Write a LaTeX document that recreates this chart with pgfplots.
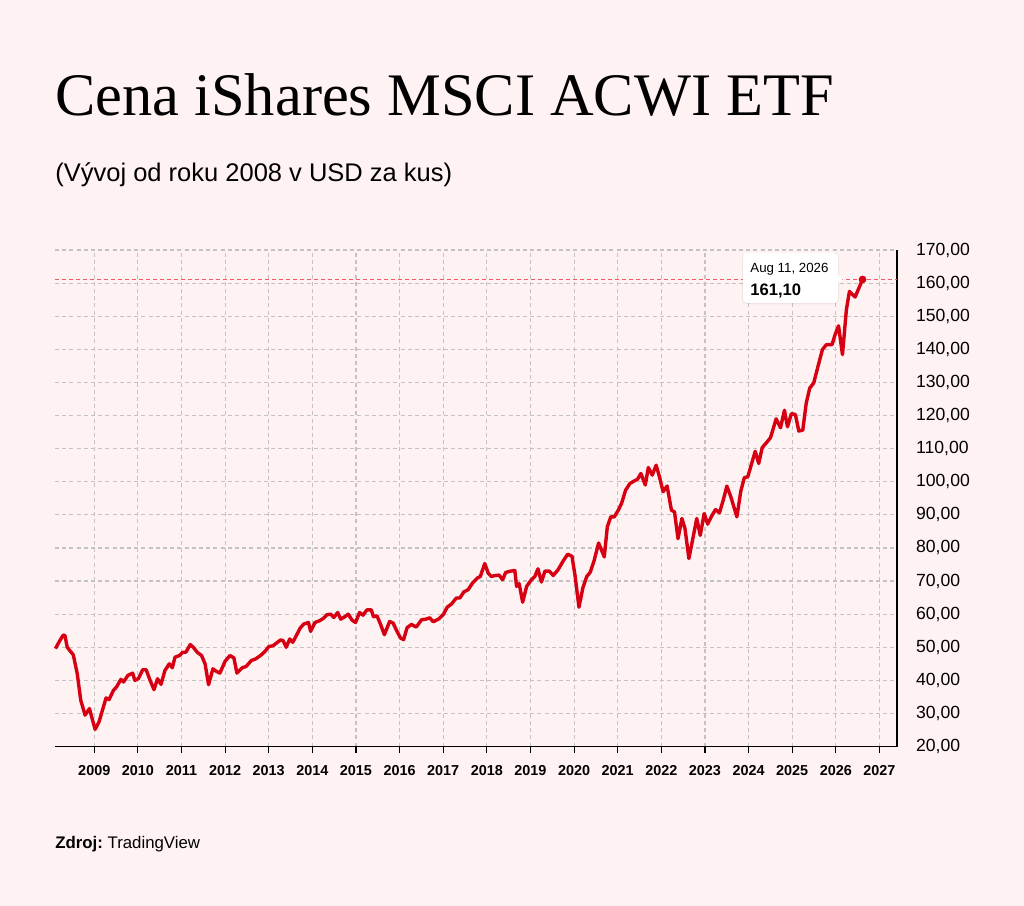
\documentclass[border=0pt]{standalone}
\usepackage{pgfplots}
\pgfplotsset{compat=1.18}
\usepackage{fontspec}
\setmainfont{Liberation Sans}
\newfontfamily\titlefont{Liberation Serif}
\definecolor{bg}{RGB}{255,242,242}
\definecolor{linered}{RGB}{215,0,18}
\definecolor{gridgray}{RGB}{195,195,195}
\definecolor{dashred}{RGB}{245,90,100}
\begin{document}
\begin{tikzpicture}
\fill[bg] (0,0) rectangle (512pt,453pt);
\useasboundingbox (0,0) rectangle (512pt,453pt);
\node[anchor=base west, inner sep=0pt, font=\titlefont\fontsize{30.2}{32}\selectfont] at (27.5pt,395pt) {Cena iShares MSCI ACWI ETF};
\node[anchor=base west, inner sep=0pt, font=\fontsize{12.75}{14}\selectfont] at (27.5pt,362pt) {(Vývoj od roku 2008 v USD za kus)};
\node[anchor=base west, inner sep=0pt, font=\fontsize{8.4}{10}\selectfont] at (27.5pt,28.5pt) {\textbf{Zdroj:}~TradingView};
\begin{axis}[
  at={(27.5pt,79.7pt)}, anchor=south west,
  scale only axis, width=421pt, height=248.3pt,
  xmin=2008.1, xmax=2027.4, ymin=20, ymax=170,
  axis x line*=bottom, axis y line*=right,
  axis line style={black, line width=0.7pt},
  xtick={2009,...,2027},
  xticklabel={\pgfmathprintnumber[/pgf/number format/1000 sep={}, /pgf/number format/fixed, /pgf/number format/precision=0]{\tick}},
  ytick={20,30,...,170},
  tick align=outside, major tick length=3pt,
  xtick style={black, line width=0.6pt},
  ytick style={draw=none},
  grid=major,
  major grid style={gridgray, line width=0.6pt, dash pattern=on 2pt off 1.6pt},
  /pgf/number format/assume math mode=true,
  yticklabel style={font=\fontsize{8.8}{10}\selectfont, /pgf/number format/fixed, /pgf/number format/fixed zerofill, /pgf/number format/precision=2, /pgf/number format/use comma, xshift=3pt},
  xticklabel style={font=\bfseries\fontsize{7.2}{9}\selectfont, yshift=-3pt},
  clip=false,
]
\draw[dashred, line width=0.75pt, dash pattern=on 2pt off 1.5pt] (axis cs:2008.1,161.1) -- (axis cs:2027.4,161.1);
\addplot[linered, line width=1.7pt, line join=round] coordinates {
(2008.11,49.6) (2008.21,52.0) (2008.29,53.7) (2008.33,53.5) (2008.38,50.0) (2008.44,49.0) (2008.52,47.7)
(2008.61,42.0) (2008.69,34.0) (2008.79,29.5) (2008.89,31.5) (2008.94,29.0) (2009.02,25.2) (2009.11,27.5)
(2009.27,34.7) (2009.34,34.2) (2009.44,37.0) (2009.51,38.0) (2009.61,40.3) (2009.67,39.5) (2009.77,41.5)
(2009.88,42.2) (2009.93,40.0) (2010.01,40.5) (2010.11,43.2) (2010.19,43.2) (2010.28,40.0) (2010.37,37.2)
(2010.45,40.5) (2010.53,38.8) (2010.62,43.0) (2010.72,45.0) (2010.79,43.8) (2010.85,47.0) (2010.95,47.5)
(2011.03,48.5) (2011.10,48.5) (2011.20,50.8) (2011.27,50.0) (2011.36,48.5) (2011.46,47.5) (2011.54,45.0)
(2011.62,38.7) (2011.72,43.5) (2011.79,42.8) (2011.88,42.2) (2012.00,45.8) (2012.11,47.5) (2012.20,46.8)
(2012.27,42.2) (2012.39,43.8) (2012.48,44.2) (2012.60,46.0) (2012.70,46.5) (2012.81,47.5) (2012.91,48.7)
(2013.00,50.2) (2013.10,50.5) (2013.17,51.2) (2013.27,52.2) (2013.33,52.0) (2013.40,50.0) (2013.48,52.5)
(2013.55,51.5) (2013.63,53.5) (2013.72,55.8) (2013.80,57.0) (2013.91,57.5) (2013.96,54.8) (2014.06,57.5)
(2014.16,58.0) (2014.25,58.7) (2014.33,59.8) (2014.42,60.0) (2014.49,59.0) (2014.58,60.5) (2014.65,58.5)
(2014.74,59.2) (2014.82,60.0) (2014.91,58.2) (2014.99,57.5) (2015.08,60.5) (2015.16,59.7) (2015.25,61.3)
(2015.35,61.3) (2015.40,59.2) (2015.48,59.5) (2015.56,57.0) (2015.65,53.8) (2015.77,57.8) (2015.85,57.3)
(2015.94,54.8) (2016.02,52.8) (2016.09,52.3) (2016.17,55.9) (2016.27,56.9) (2016.38,56.1) (2016.50,58.3)
(2016.60,58.5) (2016.69,58.9) (2016.77,57.7) (2016.90,58.6) (2017.00,59.9) (2017.09,62.1) (2017.19,63.1)
(2017.30,64.9) (2017.38,64.9) (2017.47,66.7) (2017.57,67.4) (2017.67,69.4) (2017.78,70.9) (2017.85,71.4)
(2017.95,75.3) (2018.03,72.4) (2018.10,71.4) (2018.20,71.7) (2018.28,71.8) (2018.36,70.4) (2018.43,72.6)
(2018.54,73.0) (2018.64,73.2) (2018.68,68.4) (2018.74,69.2) (2018.82,63.6) (2018.91,68.4) (2019.02,70.4)
(2019.10,71.4) (2019.17,73.7) (2019.25,69.7) (2019.33,73.0) (2019.43,73.0) (2019.52,71.7) (2019.63,73.4)
(2019.75,76.1) (2019.85,78.1) (2019.95,77.5) (2020.02,71.7) (2020.11,62.1) (2020.20,68.0) (2020.29,71.4)
(2020.37,72.7) (2020.46,76.3) (2020.56,81.5) (2020.69,77.3) (2020.76,86.4) (2020.84,89.4) (2020.92,89.4)
(2021.02,91.6) (2021.09,93.6) (2021.18,97.5) (2021.28,99.5) (2021.37,100.2) (2021.45,100.7) (2021.53,102.5)
(2021.63,99.0) (2021.70,104.3) (2021.79,102.0) (2021.88,105.0) (2021.95,101.7) (2022.04,97.0) (2022.13,98.7)
(2022.23,91.4) (2022.30,90.9) (2022.38,82.8) (2022.47,88.9) (2022.54,85.9) (2022.63,76.8) (2022.72,82.8)
(2022.81,88.9) (2022.89,83.8) (2022.98,90.4) (2023.06,87.2) (2023.15,89.6) (2023.24,91.6) (2023.33,90.6)
(2023.42,94.6) (2023.50,98.7) (2023.59,95.5) (2023.73,89.4) (2023.82,97.2) (2023.90,101.2) (2023.98,101.5)
(2024.15,109.2) (2024.23,105.5) (2024.31,110.3) (2024.42,112.0) (2024.50,113.3) (2024.63,119.0) (2024.73,116.3)
(2024.82,121.6) (2024.89,116.6) (2024.98,120.6) (2025.07,120.3) (2025.15,115.3) (2025.24,115.6) (2025.32,123.8)
(2025.40,128.3) (2025.49,129.8) (2025.60,135.4) (2025.69,139.9) (2025.78,141.4) (2025.91,141.4) (2025.98,144.4)
(2026.06,147.1) (2026.15,138.4) (2026.24,152.0) (2026.31,157.5) (2026.44,155.8) (2026.61,161.1)
};
\addplot[only marks, mark=*, mark size=1.7pt, color=linered] coordinates {(2026.61,161.1)};
\end{axis}
% tooltip
\fill[black, opacity=0.06, rounded corners=2.5pt] (371pt,300.8pt) rectangle (419.5pt,326.5pt);
\fill[white, rounded corners=2pt] (371.5pt,301.5pt) rectangle (419pt,326.5pt);
\fill[white] (418.5pt,315.5pt) -- (421.5pt,313.5pt) -- (418.5pt,311.5pt) -- cycle;
\node[anchor=base west, inner sep=0pt, font=\fontsize{6.65}{8}\selectfont] at (375pt,316.5pt) {Aug 11, 2026};
\node[anchor=base west, inner sep=0pt, font=\bfseries\fontsize{8.3}{10}\selectfont] at (375pt,305pt) {161,10};
\end{tikzpicture}
\end{document}
